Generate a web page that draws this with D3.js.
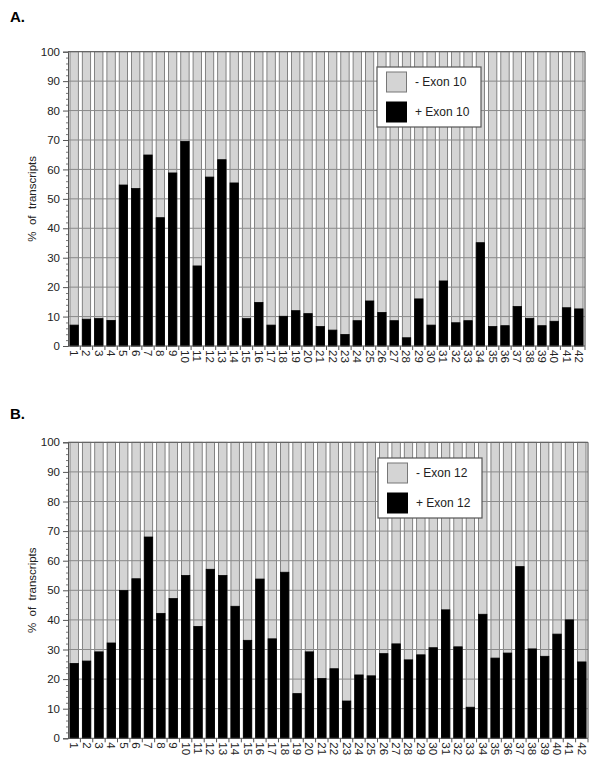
<!DOCTYPE html>
<html>
<head>
<meta charset="utf-8">
<script src="https://cdn.jsdelivr.net/npm/d3@7"></script>
<style>
body{margin:0;background:#fff;}
svg text{font-family:"Liberation Sans",Arial,sans-serif;fill:#222;}
</style>
</head>
<body id="body">
<svg id="svg_canvas" width="602" height="772"></svg>
<script>

// cell lines on the x axis
var cell_lines=["1","2","3","4","5","6","7","8","9","10","11","12","13","14","15","16","17","18","19","20","21",
	"22","23","24","25","26","27","28","29","30","31","32","33","34","35","36","37","38","39","40","41","42"];

// % of transcripts that include the exon (black part), rest is the gray part
var exon10_plus=[7.1,9.1,9.3,8.7,54.7,53.5,64.9,43.6,58.8,69.5,27.2,57.4,63.3,55.4,9.3,14.8,7.1,10.1,12.0,11.0,6.6,
	5.4,3.9,8.6,15.3,11.4,8.6,2.8,16.0,7.1,22.1,7.9,8.6,35.1,6.6,6.9,13.4,9.4,6.9,8.4,13.0,12.6];

var exon12_plus=[25.3,26.1,29.2,32.2,49.9,53.9,68.0,42.2,47.2,55.0,37.8,57.1,55.0,44.6,33.1,53.8,33.6,56.1,15.1,29.2,20.2,
	23.5,12.6,21.4,21.1,28.6,31.9,26.5,28.2,30.6,43.4,30.9,10.5,41.9,27.1,28.8,58.0,30.2,27.7,35.2,40.0,25.8];

var y_ticks=[0,10,20,30,40,50,60,70,80,90,100];
var y_minor_ticks=[2,4,6,8,12,14,16,18,22,24,26,28,32,34,36,38,42,44,46,48,52,54,56,58,62,64,66,68,72,74,76,78,82,84,86,88,92,94,96,98];

var legend_labels_A=["- Exon 10","+ Exon 10"];
var legend_labels_B=["- Exon 12","+ Exon 12"];


function start(){

	var svg=d3.select("#svg_canvas");

	draw_panel(svg,{letter:"A.",letter_y:22,top:51.7,bottom:346,left:68,right:585,
		values:exon10_plus,legend:legend_labels_A,legend_x:377,legend_y:67});

	draw_panel(svg,{letter:"B.",letter_y:419,top:442.3,bottom:738.3,left:68,right:588,
		values:exon12_plus,legend:legend_labels_B,legend_x:378,legend_y:458});

}


function draw_panel(svg,p){

	var g=svg.append("g");

	var x=d3.scaleBand().domain(cell_lines).range([p.left,p.right]).paddingInner(0.32).paddingOuter(0.16);
	var y=d3.scaleLinear().domain([0,100]).range([p.bottom,p.top]);

	//panel letter
	g.append("text")
		.attr("x",10)
		.attr("y",p.letter_y)
		.attr("font-size",15)
		.attr("font-weight","bold")
		.style("fill","#000")
		.text(p.letter);

	var bars=g.selectAll(".bar").data(p.values).enter().append("g");

	//gray part (- exon), full column, black drawn over it
	bars.append("rect")
		.attr("x",function(d,i){return x(cell_lines[i]);})
		.attr("width",x.bandwidth())
		.attr("y",y(100))
		.attr("height",function(d){return y(0)-y(100);})
		.attr("fill","#d4d4d4")
		.attr("stroke","#6a6a6a")
		.attr("stroke-width",0.8);

	//horizontal grid lines, over the gray but under the black
	g.selectAll(".grid").data(y_ticks.slice(1,10)).enter().append("line")
		.attr("x1",p.left).attr("x2",p.right)
		.attr("y1",function(d){return y(d);})
		.attr("y2",function(d){return y(d);})
		.attr("stroke","#8a8a8a")
		.attr("stroke-width",1);

	//black part (+ exon)
	g.selectAll(".blk").data(p.values).enter().append("rect")
		.attr("x",function(d,i){return x(cell_lines[i]);})
		.attr("width",x.bandwidth())
		.attr("y",function(d){return y(d);})
		.attr("height",function(d){return y(0)-y(d);})
		.attr("fill","#000")
		.attr("stroke","#000")
		.attr("stroke-width",0.8);

	//frame top and right
	g.append("line").attr("x1",p.left).attr("x2",p.right).attr("y1",p.top).attr("y2",p.top)
		.attr("stroke","#666").attr("stroke-width",1.2);
	g.append("line").attr("x1",p.right).attr("x2",p.right).attr("y1",p.top).attr("y2",p.bottom)
		.attr("stroke","#666").attr("stroke-width",1.2);

	//y axis
	var y_axis=d3.axisLeft(y).tickValues(y_ticks).tickSize(5).tickPadding(3).tickFormat(d3.format("d"));
	var ya=g.append("g").attr("transform","translate("+p.left+",0)").call(y_axis);
	ya.select(".domain").attr("stroke","#555");
	ya.selectAll(".tick line").attr("stroke","#555");
	ya.selectAll(".tick text").attr("font-size",11.5).attr("font-family",null).style("fill","#222");

	var y_minor=d3.axisLeft(y).tickValues(y_minor_ticks).tickSize(2).tickFormat("");
	var ym=g.append("g").attr("transform","translate("+p.left+",0)").call(y_minor);
	ym.select(".domain").remove();
	ym.selectAll(".tick line").attr("stroke","#777");

	//x axis line and ticks between the categories
	g.append("line").attr("x1",p.left).attr("x2",p.right).attr("y1",p.bottom).attr("y2",p.bottom)
		.attr("stroke","#555").attr("stroke-width",1);

	var step=x.step();
	g.selectAll(".xtick").data(cell_lines).enter().append("line")
		.attr("x1",function(d){return x(d)+x.bandwidth()+step*x.paddingInner()/2;})
		.attr("x2",function(d){return x(d)+x.bandwidth()+step*x.paddingInner()/2;})
		.attr("y1",p.bottom)
		.attr("y2",p.bottom+4)
		.attr("stroke","#555");

	//rotated labels, reading top to bottom
	g.selectAll(".xlabel").data(cell_lines).enter().append("text")
		.attr("x",function(d){return x(d)+x.bandwidth()/2;})
		.attr("y",p.bottom+4)
		.attr("transform",function(d){return "rotate(90,"+(x(d)+x.bandwidth()/2)+","+(p.bottom+4)+")";})
		.attr("dy","0.35em")
		.attr("font-size",11.5)
		.text(function(d){return d;});

	//y title
	var cy=(p.top+p.bottom)/2;
	g.append("text")
		.attr("transform","translate(36,"+cy+") rotate(-90)")
		.attr("text-anchor","middle")
		.attr("font-size",11.5)
		.attr("xml:space","preserve")
		.text("%  of  transcripts");

	//legend
	var lg=g.append("g").attr("transform","translate("+p.legend_x+","+p.legend_y+")");
	lg.append("rect").attr("width",104).attr("height",60)
		.attr("fill","#fff").attr("stroke","#555").attr("stroke-width",1.2);

	var swatch_fill=["#d4d4d4","#000"];
	lg.selectAll(".sw").data(p.legend).enter().append("rect")
		.attr("x",9.5)
		.attr("y",function(d,i){return 5+i*30;})
		.attr("width",20)
		.attr("height",20)
		.attr("fill",function(d,i){return swatch_fill[i];})
		.attr("stroke",function(d,i){return i==0?"#777":"#000";});

	lg.selectAll(".lt").data(p.legend).enter().append("text")
		.attr("x",38)
		.attr("y",function(d,i){return 19+i*30;})
		.attr("font-size",12)
		.text(function(d){return d;});

}

start();

</script>
</body>
</html>
